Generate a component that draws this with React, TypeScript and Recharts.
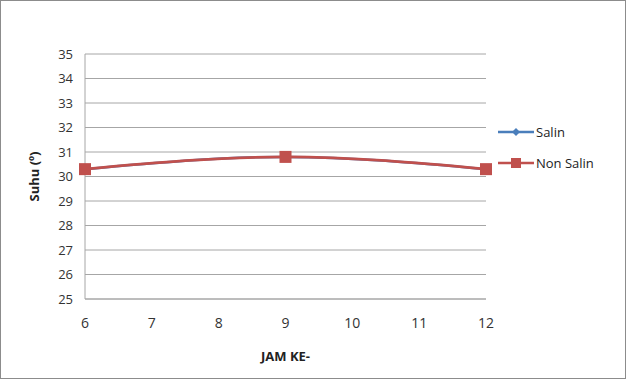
import React from 'react';
import { LineChart, Line, XAxis, YAxis, CartesianGrid } from 'recharts';

const jam = [6, 9, 12];
const salin = [30.3, 30.8, 30.3];
const nonSalin = [30.3, 30.8, 30.3];
const xTicks = [6, 7, 8, 9, 10, 11, 12];
const yTicks = [25, 26, 27, 28, 29, 30, 31, 32, 33, 34, 35];

const data = jam.map((j, i) => ({ jam: j, salin: salin[i], nonSalin: nonSalin[i] }));

const FONT = '"Open Sans", "Liberation Sans", sans-serif';

const Diamond = (props: any) => {
  const { cx, cy } = props;
  if (cx == null || cy == null) return null;
  return <path d={`M${cx},${cy - 5}L${cx + 5},${cy}L${cx},${cy + 5}L${cx - 5},${cy}Z`} fill="#4A7EBB" />;
};

const Square = (props: any) => {
  const { cx, cy } = props;
  if (cx == null || cy == null) return null;
  return <rect x={cx - 6} y={cy - 6} width={12} height={12} fill="#C0504D" />;
};

// legend sits to the right of the plot, outside the chart's own layout
const LegendBox = () => (
  <div
    style={{
      position: 'absolute',
      left: 497,
      top: 115,
      fontFamily: FONT,
      fontSize: 13,
      color: '#222',
    }}
  >
    <div style={{ display: 'flex', alignItems: 'center', height: 31 }}>
      <svg width={36} height={12}>
        <line x1={0} y1={6} x2={36} y2={6} stroke="#4A7EBB" strokeWidth={2.5} />
        <path d="M18,2L22,6L18,10L14,6Z" fill="#4A7EBB" />
      </svg>
      <span style={{ marginLeft: 2 }}>Salin</span>
    </div>
    <div style={{ display: 'flex', alignItems: 'center', height: 31 }}>
      <svg width={36} height={12}>
        <line x1={0} y1={6} x2={36} y2={6} stroke="#C0504D" strokeWidth={2.5} />
        <rect x={13} y={1} width={10} height={10} fill="#C0504D" />
      </svg>
      <span style={{ marginLeft: 2 }}>Non Salin</span>
    </div>
  </div>
);

export default function App() {
  return (
    <div
      style={{
        position: 'absolute',
        left: 0,
        top: 0,
        width: 626,
        height: 379,
        boxSizing: 'border-box',
        border: '1px solid #8c8c8c',
        background: '#fff',
      }}
    >
      <LineChart
        width={624}
        height={377}
        data={data}
        margin={{ top: 53, right: 139, left: 45, bottom: 0 }}
      >
        <CartesianGrid vertical={false} stroke="#a6a6a6" strokeWidth={1} />
        <XAxis
          dataKey="jam"
          type="number"
          domain={[6, 12]}
          ticks={xTicks}
          tickLine={false}
          axisLine={{ stroke: '#a6a6a6' }}
          tick={{ fill: '#333', fontSize: 14, fontFamily: FONT }}
          tickMargin={13}
          height={79}
          label={{
            value: 'JAM KE-',
            position: 'insideBottom',
            offset: 17,
            fill: '#222',
            fontSize: 13,
            fontWeight: 'bold',
            fontFamily: FONT,
          }}
        />
        <YAxis
          domain={[25, 35]}
          ticks={yTicks}
          interval={0}
          tickLine={false}
          axisLine={{ stroke: '#a6a6a6' }}
          tick={{ fill: '#333', fontSize: 13, fontFamily: FONT }}
          tickMargin={6}
          width={39}
          label={{
            value: 'Suhu  (º)',
            angle: -90,
            position: 'insideLeft',
            offset: -12,
            style: { textAnchor: 'middle' },
            fill: '#222',
            fontSize: 13,
            fontWeight: 'bold',
            fontFamily: FONT,
          }}
        />
        <Line
          type="monotone"
          dataKey="salin"
          name="Salin"
          stroke="#4A7EBB"
          strokeWidth={2.5}
          dot={<Diamond />}
          isAnimationActive={false}
        />
        <Line
          type="monotone"
          dataKey="nonSalin"
          name="Non Salin"
          stroke="#C0504D"
          strokeWidth={2.8}
          dot={<Square />}
          isAnimationActive={false}
        />
      </LineChart>
      <LegendBox />
    </div>
  );
}
